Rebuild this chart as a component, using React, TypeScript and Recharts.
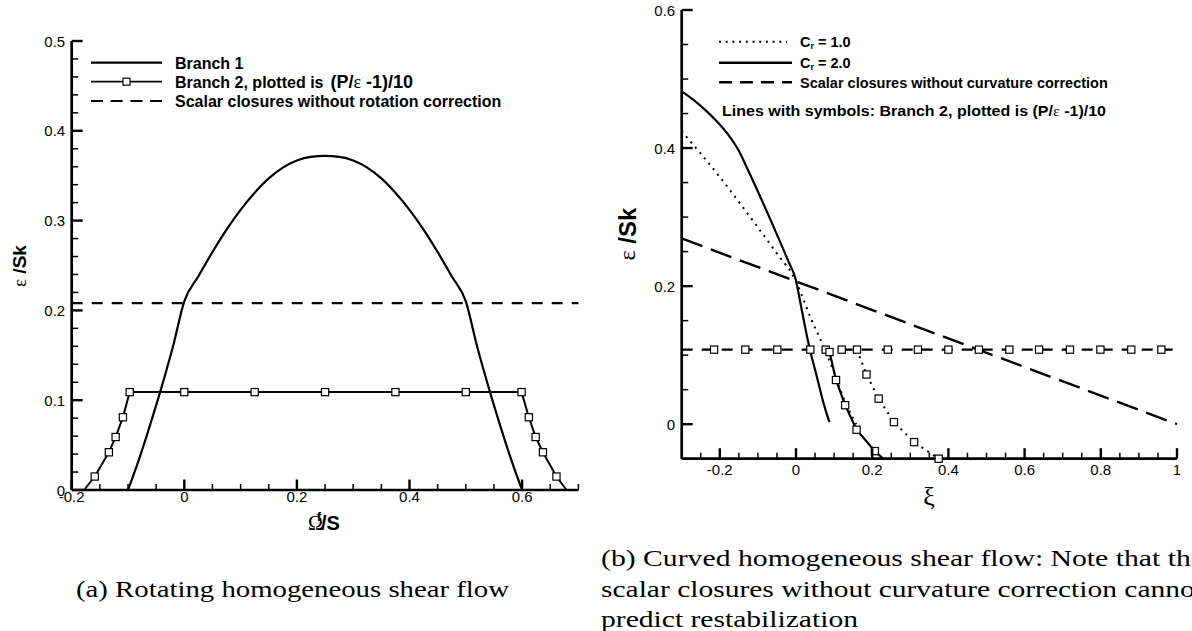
import React from 'react';
import { ComposedChart, Line, Scatter, XAxis, YAxis } from 'recharts';

type Pt = { x: number; y: number };

const SANS = '"Liberation Sans", Arial, Helvetica, sans-serif';
const SERIF = '"Liberation Serif", "Times New Roman", serif';

// ---------------- (a) Rotating homogeneous shear flow ----------------
const aXMajor = [-0.2, 0, 0.2, 0.4, 0.6];
const aXMinor = [-0.15, -0.1, -0.05, 0.05, 0.1, 0.15, 0.25, 0.3, 0.35, 0.45, 0.5, 0.55, 0.65, 0.7];
const aYMajor = [0, 0.1, 0.2, 0.3, 0.4, 0.5];
const aYMinor = [0.02, 0.04, 0.06, 0.08, 0.12, 0.14, 0.16, 0.18, 0.22, 0.24, 0.26, 0.28, 0.32, 0.34, 0.36, 0.38, 0.42, 0.44, 0.46, 0.48];

const aBranch1: Pt[] = [
  { x: -0.1, y: 0 }, { x: -0.08, y: 0.035 }, { x: -0.06, y: 0.074 }, { x: -0.043, y: 0.109 },
  { x: -0.02, y: 0.16 }, { x: 0, y: 0.21 }, { x: 0.025, y: 0.238 }, { x: 0.05, y: 0.265 },
  { x: 0.075, y: 0.29 }, { x: 0.1, y: 0.312 }, { x: 0.125, y: 0.331 }, { x: 0.15, y: 0.347 },
  { x: 0.175, y: 0.359 }, { x: 0.2, y: 0.367 }, { x: 0.225, y: 0.371 }, { x: 0.25, y: 0.372 },
  { x: 0.275, y: 0.371 }, { x: 0.3, y: 0.367 }, { x: 0.325, y: 0.359 }, { x: 0.35, y: 0.347 },
  { x: 0.375, y: 0.331 }, { x: 0.4, y: 0.312 }, { x: 0.425, y: 0.29 }, { x: 0.45, y: 0.265 },
  { x: 0.475, y: 0.238 }, { x: 0.5, y: 0.21 }, { x: 0.52, y: 0.16 }, { x: 0.543, y: 0.109 },
  { x: 0.56, y: 0.074 }, { x: 0.58, y: 0.035 }, { x: 0.6, y: 0 },
];
const aBranch2: Pt[] = [
  { x: -0.178, y: 0 }, { x: -0.159, y: 0.015 }, { x: -0.134, y: 0.042 }, { x: -0.122, y: 0.059 },
  { x: -0.109, y: 0.081 }, { x: -0.097, y: 0.109 }, { x: 0.599, y: 0.109 }, { x: 0.612, y: 0.081 },
  { x: 0.624, y: 0.059 }, { x: 0.637, y: 0.042 }, { x: 0.661, y: 0.015 }, { x: 0.679, y: 0 },
];
const aBranch2Symbols: Pt[] = [
  { x: -0.159, y: 0.015 }, { x: -0.134, y: 0.042 }, { x: -0.122, y: 0.059 }, { x: -0.109, y: 0.081 },
  { x: -0.097, y: 0.109 }, { x: 0, y: 0.109 }, { x: 0.125, y: 0.109 }, { x: 0.25, y: 0.109 },
  { x: 0.375, y: 0.109 }, { x: 0.5, y: 0.109 }, { x: 0.599, y: 0.109 }, { x: 0.612, y: 0.081 },
  { x: 0.624, y: 0.059 }, { x: 0.637, y: 0.042 }, { x: 0.661, y: 0.015 },
];
const aScalar: Pt[] = [{ x: -0.2, y: 0.208 }, { x: 0.7, y: 0.208 }];

// ---------------- (b) Curved homogeneous shear flow ----------------
const bXMajor = [-0.2, 0, 0.2, 0.4, 0.6, 0.8, 1];
const bXMinor = [-0.3, -0.25, -0.15, -0.1, -0.05, 0.05, 0.1, 0.15, 0.25, 0.3, 0.35, 0.45, 0.5, 0.55, 0.65, 0.7, 0.75, 0.85, 0.9, 0.95];
const bYMajor = [0, 0.2, 0.4, 0.6];
const bYMinor = [-0.05, 0.05, 0.1, 0.15, 0.25, 0.3, 0.35, 0.45, 0.5, 0.55];

const bScalar1: Pt[] = [{ x: -0.3, y: 0.269 }, { x: 1, y: 0 }];
const bScalar2: Pt[] = [{ x: -0.3, y: 0.108 }, { x: 1, y: 0.108 }];
const bScalar2Symbols: Pt[] = [
  { x: -0.215, y: 0.108 }, { x: -0.133, y: 0.108 }, { x: -0.049, y: 0.108 }, { x: 0.0376, y: 0.108 },
  { x: 0.12, y: 0.108 }, { x: 0.241, y: 0.108 }, { x: 0.32, y: 0.108 }, { x: 0.4, y: 0.108 },
  { x: 0.48, y: 0.108 }, { x: 0.56, y: 0.108 }, { x: 0.638, y: 0.108 }, { x: 0.719, y: 0.108 },
  { x: 0.799, y: 0.108 }, { x: 0.88, y: 0.108 }, { x: 0.959, y: 0.108 },
];
const bCr2Branch1: Pt[] = [
  { x: -0.3, y: 0.482 }, { x: -0.27, y: 0.47 }, { x: -0.24, y: 0.456 }, { x: -0.21, y: 0.44 },
  { x: -0.18, y: 0.421 }, { x: -0.15, y: 0.396 }, { x: -0.13, y: 0.373 }, { x: -0.1, y: 0.337 },
  { x: -0.07, y: 0.3 }, { x: -0.04, y: 0.262 }, { x: -0.02, y: 0.236 }, { x: 0, y: 0.208 },
  { x: 0.01, y: 0.18 }, { x: 0.02, y: 0.152 }, { x: 0.03, y: 0.124 }, { x: 0.04, y: 0.1 },
  { x: 0.05, y: 0.079 }, { x: 0.056, y: 0.066 }, { x: 0.064, y: 0.048 }, { x: 0.072, y: 0.031 },
  { x: 0.08, y: 0.016 }, { x: 0.088, y: 0.003 },
];
const bCr1Branch1: Pt[] = [
  { x: -0.3, y: 0.425 }, { x: -0.29, y: 0.418 }, { x: -0.25, y: 0.392 }, { x: -0.2, y: 0.358 },
  { x: -0.15, y: 0.322 }, { x: -0.1, y: 0.285 }, { x: -0.05, y: 0.247 }, { x: 0, y: 0.207 },
  { x: 0.02, y: 0.18 }, { x: 0.04, y: 0.152 }, { x: 0.06, y: 0.128 }, { x: 0.08, y: 0.102 },
  { x: 0.1, y: 0.075 }, { x: 0.116, y: 0.05 }, { x: 0.135, y: 0.025 }, { x: 0.158, y: 0 },
];
const bCr2Branch2: Pt[] = [
  { x: 0.078, y: 0.108 }, { x: 0.088, y: 0.1045 }, { x: 0.105, y: 0.064 }, { x: 0.129, y: 0.0275 },
  { x: 0.159, y: -0.008 }, { x: 0.207, y: -0.039 }, { x: 0.229, y: -0.05 },
];
const bCr2Branch2Symbols: Pt[] = [
  { x: 0.078, y: 0.108 }, { x: 0.088, y: 0.1045 }, { x: 0.105, y: 0.064 }, { x: 0.129, y: 0.0275 },
  { x: 0.159, y: -0.008 }, { x: 0.207, y: -0.039 },
];
const bCr1Branch2: Pt[] = [
  { x: 0.16, y: 0.108 }, { x: 0.185, y: 0.072 }, { x: 0.217, y: 0.037 }, { x: 0.257, y: 0.003 },
  { x: 0.31, y: -0.026 }, { x: 0.3745, y: -0.05 },
];
const bCr1Branch2Symbols: Pt[] = [
  { x: 0.16, y: 0.108 }, { x: 0.185, y: 0.072 }, { x: 0.217, y: 0.037 }, { x: 0.257, y: 0.003 },
  { x: 0.31, y: -0.026 }, { x: 0.3745, y: -0.05 },
];

// ---------------- helpers ----------------
const isIn = (arr: number[], v: number) => arr.some((m) => Math.abs(m - v) < 1e-9);

const makeXTick = (majors: number[], labelDy: number) => (props: any) => {
  const { x, y, payload } = props;
  const v = payload.value;
  const major = isIn(majors, v);
  return (
    <g>
      <line x1={x} y1={y} x2={x} y2={y - (major ? 10.5 : 6)} stroke="#000" strokeWidth={major ? 2.4 : 1.5} />
      {major && (
        <text x={x} y={y + labelDy} textAnchor="middle" dominantBaseline="central" fontFamily={SANS} fontSize={15} fill="#000">
          {String(v)}
        </text>
      )}
    </g>
  );
};

const makeYTick = (majors: number[]) => (props: any) => {
  const { x, y, payload } = props;
  const v = payload.value;
  const major = isIn(majors, v);
  return (
    <g>
      <line x1={x} y1={y} x2={x + (major ? 11 : 6.5)} y2={y} stroke="#000" strokeWidth={major ? 2.4 : 1.5} />
      {major && (
        <text x={x - 6.5} y={y} textAnchor="end" dominantBaseline="central" fontFamily={SANS} fontSize={15} fill="#000">
          {String(v)}
        </text>
      )}
    </g>
  );
};

const Square = (props: any) => {
  const { cx, cy } = props;
  if (cx == null || cy == null) return <g />;
  return <rect x={cx - 3.6} y={cy - 3.6} width={7.2} height={7.2} fill="#fff" stroke="#000" strokeWidth={1.2} />;
};

const axisLine = { stroke: '#000', strokeWidth: 2.7 };

export default function App() {
  return (
    <div style={{ position: 'absolute', left: 0, top: 0, width: 1192, height: 631, background: '#fff', overflow: 'hidden' }}>
      <div style={{ position: 'absolute', left: 0, top: 0 }}>
        <ComposedChart width={600} height={540} margin={{ top: 41, right: 21.6, bottom: 20, left: 11.7 }}>
          <XAxis type="number" dataKey="x" domain={[-0.2, 0.7]} ticks={[...aXMajor, ...aXMinor]} interval={0}
            tickSize={0} tickMargin={0} tickLine={false} tick={makeXTick(aXMajor, 6.5)} axisLine={axisLine} height={30} />
          <YAxis type="number" domain={[0, 0.5]} ticks={[...aYMajor, ...aYMinor]} interval={0}
            tickSize={0} tickMargin={0} tickLine={false} tick={makeYTick(aYMajor)} axisLine={axisLine} width={60} />
          <Line data={aScalar} dataKey="y" type="linear" stroke="#000" strokeWidth={2.2} strokeDasharray="11 9" dot={false} isAnimationActive={false} />
          <Line data={aBranch1} dataKey="y" type="monotone" stroke="#000" strokeWidth={2.2} dot={false} isAnimationActive={false} />
          <Line data={aBranch2} dataKey="y" type="linear" stroke="#000" strokeWidth={2} dot={false} isAnimationActive={false} />
          <Scatter data={aBranch2Symbols} dataKey="y" shape={Square} isAnimationActive={false} />
        </ComposedChart>
      </div>
      <div style={{ position: 'absolute', left: 600, top: 0 }}>
        <ComposedChart width={592} height={520} margin={{ top: 10, right: 15, bottom: 31.3, left: 21.7 }}>
          <XAxis type="number" dataKey="x" domain={[-0.3, 1]} ticks={[...bXMajor, ...bXMinor]} interval={0}
            tickSize={0} tickMargin={0} tickLine={false} tick={makeXTick(bXMajor, 10.6)} axisLine={axisLine} height={30} />
          <YAxis type="number" domain={[-0.05, 0.6]} ticks={[...bYMajor, ...bYMinor]} interval={0}
            tickSize={0} tickMargin={0} tickLine={false} tick={makeYTick(bYMajor)} axisLine={axisLine} width={60} />
          <Line data={bScalar1} dataKey="y" type="linear" stroke="#000" strokeWidth={2.4} strokeDasharray="22 9" dot={false} isAnimationActive={false} />
          <Line data={bScalar2} dataKey="y" type="linear" stroke="#000" strokeWidth={2.2} strokeDasharray="11 9" dot={false} isAnimationActive={false} />
          <Line data={bCr2Branch1} dataKey="y" type="monotone" stroke="#000" strokeWidth={2.2} dot={false} isAnimationActive={false} />
          <Line data={bCr1Branch1} dataKey="y" type="monotone" stroke="#000" strokeWidth={2} strokeDasharray="2 5" dot={false} isAnimationActive={false} />
          <Line data={bCr2Branch2} dataKey="y" type="linear" stroke="#000" strokeWidth={2.2} dot={false} isAnimationActive={false} />
          <Line data={bCr1Branch2} dataKey="y" type="linear" stroke="#000" strokeWidth={2} strokeDasharray="2 5" dot={false} isAnimationActive={false} />
          <Scatter data={bScalar2Symbols} dataKey="y" shape={Square} isAnimationActive={false} />
          <Scatter data={bCr2Branch2Symbols} dataKey="y" shape={Square} isAnimationActive={false} />
          <Scatter data={bCr1Branch2Symbols} dataKey="y" shape={Square} isAnimationActive={false} />
        </ComposedChart>
      </div>
      <svg width={1192} height={631} style={{ position: 'absolute', left: 0, top: 0, pointerEvents: 'none', overflow: 'hidden' }}>
        {/* legend (a) */}
        <line x1={91} y1={62.7} x2={162} y2={62.7} stroke="#000" strokeWidth={2.2} />
        <line x1={91} y1={81.7} x2={162} y2={81.7} stroke="#000" strokeWidth={1.8} />
        <rect x={123} y={78.2} width={7} height={7} fill="#fff" stroke="#000" strokeWidth={1.2} />
        <line x1={91} y1={101} x2={162} y2={101} stroke="#000" strokeWidth={2.2} strokeDasharray="12 7.7" />
        <g fontFamily={SANS} fontWeight="bold" fontSize={16} fill="#000">
          <text x={175} y={63} dominantBaseline="central">Branch 1</text>
          <text x={175} y={82} dominantBaseline="central">
            Branch 2, plotted is
            <tspan dx={7} fontSize={18}>(P/</tspan>
            <tspan fontFamily={SERIF} fontWeight="normal" fontSize={18}>ε</tspan>
            <tspan fontSize={18}> -1)/10</tspan>
          </text>
          <text x={175} y={101} dominantBaseline="central">Scalar closures without rotation correction</text>
        </g>
        {/* axis labels (a) */}
        <text transform="translate(19,266) rotate(-90)" textAnchor="middle" dominantBaseline="central" fontFamily={SANS} fontWeight="bold" fontSize={19} fill="#000">
          <tspan fontFamily={SERIF} fontWeight="normal">ε</tspan>
          <tspan> /Sk</tspan>
        </text>
        <text x={324} y={523} textAnchor="middle" dominantBaseline="central" fontFamily={SANS} fontWeight="bold" fontSize={20} fill="#000">
          <tspan fontFamily={SERIF} fontWeight="normal">Ω</tspan>
          <tspan fontSize={12} dx={-6} dy={-6}>f</tspan>
          <tspan dy={6}>/S</tspan>
        </text>
        {/* legend (b) */}
        <line x1={719} y1={41.7} x2={787} y2={41.7} stroke="#000" strokeWidth={2} strokeDasharray="2 4.7" />
        <line x1={719} y1={62.7} x2={792} y2={62.7} stroke="#000" strokeWidth={2.4} />
        <line x1={719} y1={82.3} x2={792} y2={82.3} stroke="#000" strokeWidth={2.4} strokeDasharray="13 8" />
        <g fontFamily={SANS} fontWeight="bold" fontSize={14.5} fill="#000">
          <text x={800} y={42} dominantBaseline="central">
            C<tspan fontSize={9} dy={4}>r</tspan><tspan dy={-4}> = 1.0</tspan>
          </text>
          <text x={800} y={63} dominantBaseline="central">
            C<tspan fontSize={9} dy={4}>r</tspan><tspan dy={-4}> = 2.0</tspan>
          </text>
          <text x={800} y={82.5} dominantBaseline="central">Scalar closures without curvature correction</text>
          <text x={722} y={110} dominantBaseline="central" fontSize={15.5} textLength={384} lengthAdjust="spacingAndGlyphs">
            Lines with symbols: Branch 2, plotted is (P/<tspan fontFamily={SERIF} fontWeight="normal">ε</tspan> -1)/10
          </text>
        </g>
        {/* axis labels (b) */}
        <text transform="translate(627,234) rotate(-90)" textAnchor="middle" dominantBaseline="central" fontFamily={SANS} fontWeight="bold" fontSize={24} fill="#000">
          <tspan fontFamily={SERIF} fontWeight="normal">ε</tspan>
          <tspan> /Sk</tspan>
        </text>
        <text x={929} y={496} textAnchor="middle" dominantBaseline="central" fontFamily={SERIF} fontSize={26} fill="#000">ξ</text>
        {/* captions */}
        <g fontFamily={SERIF} fontSize={24} fill="#000">
          <text x={76} y={597} textLength={433} lengthAdjust="spacingAndGlyphs">(a) Rotating homogeneous shear flow</text>
          <text x={601} y={566} textLength={603} lengthAdjust="spacingAndGlyphs">(b) Curved homogeneous shear flow: Note that the</text>
          <text x={601} y={597} textLength={602} lengthAdjust="spacingAndGlyphs">scalar closures without curvature correction cannot</text>
          <text x={601} y={627} textLength={257} lengthAdjust="spacingAndGlyphs">predict restabilization</text>
        </g>
      </svg>
    </div>
  );
}
